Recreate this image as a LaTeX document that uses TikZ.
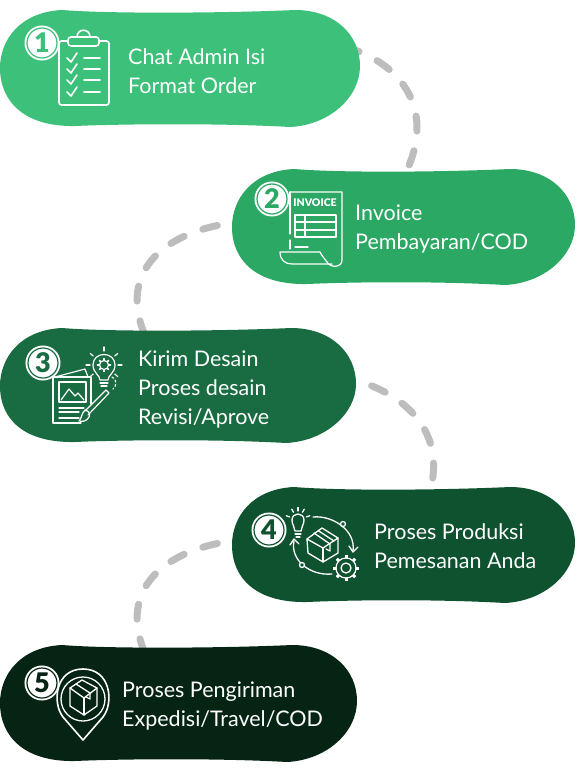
\documentclass[tikz,border=0pt]{standalone}
\usepackage{fontspec}
\setmainfont{Lato}[BoldFont=Lato Black]
\definecolor{gA}{HTML}{3CC07A}
\definecolor{gB}{HTML}{2BA864}
\definecolor{gC}{HTML}{196C42}
\definecolor{gD}{HTML}{0F5230}
\definecolor{gE}{HTML}{062414}
\definecolor{dashgray}{HTML}{BDBDBD}
\tikzset{
 flow/.style={draw=dashgray,line width=7pt,line cap=round,dash pattern=on 15pt off 20pt},
 label/.style={text=white,font=\fontsize{21.5}{29}\selectfont,align=left,anchor=west,inner sep=0pt},
 ico/.style={draw=white,line width=1.6pt,line cap=round,line join=round,fill=none},
 thin ico/.style={ico,line width=1.2pt},
 badge/.style={circle,preaction={draw=white,line width=5pt},fill=white,draw=#1,line width=1.2pt,inner sep=0pt,minimum size=30pt,font=\fontsize{27}{27}\selectfont\bfseries,text=#1},
}
% blob: left x, top y, right x, bottom y, colour
\newcommand{\blob}[5]{%
 \fill[#5] (#1+62,#2) .. controls (#1+20,#2+2) and (#1,#2+30) .. (#1,#2+58)
  .. controls (#1,#2+92) and (#1+25,#4) .. (#1+75,#4-1)
  .. controls (#1+120,#4-3) and (#3-140,#4-4) .. (#3-70,#4)
  .. controls (#3-30,#4-2) and (#3,#4-30) .. (#3,#2+56)
  .. controls (#3,#2+25) and (#3-25,#2) .. (#3-65,#2)
  .. controls (#3-130,#2+3) and (#1+110,#2+4) .. (#1+62,#2) -- cycle;}
\begin{document}
\begin{tikzpicture}[x=1pt,y=-1pt]
\useasboundingbox (0,0) rectangle (576,768);
\coordinate (s1) at (345,47);
\coordinate (e1) at (406,172);
\coordinate (s2) at (252,221);
\coordinate (e2) at (147,340);
\coordinate (s3) at (343,377);
\coordinate (e3) at (429,495);
\coordinate (s4) at (252,539);
\coordinate (e4) at (147,658);
\draw[flow] (s1) .. controls (395,60) and (438,105) .. (e1);
\draw[flow] (s2) .. controls (175,225) and (112,265) .. (e2);
\draw[flow,dash phase=5pt] (s3) .. controls (395,388) and (450,425) .. (e3);
\draw[flow] (s4) .. controls (175,543) and (112,583) .. (e4);
\blob{0}{10}{360}{127}{gA}
\blob{232}{169}{575}{285}{gB}
\blob{0}{328}{356}{443}{gC}
\blob{232}{487}{575}{603}{gD}
\blob{0}{645}{357}{762}{gE}
% labels
\node[label] (t1) at (128,71) {Chat Admin Isi\\Format Order};
\node[label] (t2) at (355,229) {Invoice\\Pembayaran/COD};
\node[label] (t3) at (138,389) {Kirim Desain\\Proses desain\\Revisi/Aprove};
\node[label] (t4) at (374,546) {Proses Produksi\\Pemesanan Anda};
\node[label] (t5) at (122,706) {Proses Pengiriman\\Expedisi/Travel/COD};
% icon 1 clipboard
\draw[ico,rounded corners=2.5pt] (68,41) -- (59,41) -- (59,105) -- (109,105) -- (109,41) -- (99,41);
\draw[ico,rounded corners=3pt] (68,46) -- (99,46) -- (99,37) -- (68,37) -- cycle;
\draw[ico] (77,37) .. controls (77,28) and (90,28) .. (90,37);
\foreach \y in {58,69,80,92}{
 \draw[ico] (67,\y) -- (71,\y+4) -- (77,\y-5);
 \draw[ico] (84,\y) -- (100,\y);
}
% icon 2 invoice
\draw[thin ico] (290,192) -- (342,192) -- (342,260) .. controls (342,268) and (330,268) .. (327,262) .. controls (324,258) and (322,256) .. (320,252) -- (280,252) .. controls (280,260) and (285,264) .. (292,264) -- (332,264);
\draw[thin ico] (290,192) -- (290,234);
\draw[thin ico] (290,240) -- (290,249);
\draw[thin ico] (295,247) -- (308,247);
\draw[thin ico] (295,215) rectangle (336,237);
\draw[thin ico] (295,222) -- (336,222) (295,230) -- (336,230) (305,215) -- (305,237);
\node[text=white,font=\fontsize{10.5}{11}\selectfont\bfseries,inner sep=0pt] (inv) at (315,203) {INVOICE};
% icon 3 design
\draw[thin ico] (55,377) -- (85,369) -- (88,377);
\draw[thin ico] (81,423) -- (53,423) -- (53,377) -- (91,377) -- (91,404);
\draw[thin ico] (59,382) rectangle (86,402);
\draw[thin ico] (61,400) -- (69,389) -- (75,396) -- (78,393) -- (84,400);
\draw[thin ico] (59,408) -- (84,408) (59,412) -- (79,412) (59,418) -- (79,418);
\draw[thin ico] (85,411) -- (106,390) -- (109,393) -- (88,415);
\draw[thin ico] (85,410) .. controls (90,411) and (90,415) .. (89,417) .. controls (87,421) and (83,422) .. (79,421) .. controls (82,418) and (81,414) .. (85,410) -- cycle;
\draw[thin ico] (100,380) .. controls (100,375) and (93,373) .. (93,365) .. controls (93,351) and (115,351) .. (115,365) .. controls (115,373) and (108,375) .. (108,380) -- cycle;
\draw[thin ico] (100,383) -- (108,383) (101,386) -- (107,386);
\draw[thin ico] (104,365) circle[radius=4.5];
\foreach \a in {0,45,...,315}{\draw[ico,line width=1.6pt] (104,365) ++(\a:5) -- ++(\a:1.5);}
\foreach \a in {0,40,140,180,220,270,320}{\draw[thin ico] (104,365) ++(\a:14) -- ++(\a:4);}
\draw[thin ico,dash pattern=on 2pt off 2.5pt] (112,377) .. controls (117,379) and (117,386) .. (113,389);
% icon 4 process
\draw[ico,line width=1.3pt] (307,539) -- (322,528) -- (338,538) -- (323,548) -- cycle;
\draw[ico,line width=1.3pt] (307,539) -- (308,553) -- (323,562) -- (338,553) -- (338,538);
\draw[ico,line width=1.3pt] (323,548) -- (323,562);
\draw[ico,line width=1.3pt] (314,533) -- (330,544) -- (330,551) -- (326,549);
\draw[ico,line width=1.3pt] (318,530.5) -- (334,541);
\draw[ico,line width=1.3pt] (295,531) .. controls (295,527) and (292,525) .. (292,520) .. controls (292,512) and (304,512) .. (304,520) .. controls (304,525) and (301,527) .. (301,531) -- cycle;
\draw[ico,line width=1.3pt] (295,534) -- (301,534) (296,537) -- (300,537);
\foreach \a in {200,240,270,300,340}{\draw[ico,line width=1.3pt] (298,520) ++(\a:9) -- ++(\a:3.5);}
\draw[ico,line width=1.3pt] (313,517) .. controls (332,515) and (356,530) .. (353,551);
\draw[ico,line width=1.3pt] (349,546) -- (353,552) -- (358,547);
\draw[ico,line width=1.3pt] (332,574) .. controls (310,576) and (290,560) .. (294,541);
\draw[ico,line width=1.3pt] (290,545) -- (294,539) -- (299,544);
\node[circle,draw=white,fill=gD,line width=1.3pt,minimum size=5pt,inner sep=0pt] (dot1) at (343,524) {};
\node[circle,draw=white,fill=gD,line width=1.3pt,minimum size=5pt,inner sep=0pt] (dot2) at (302,565) {};
\fill[gD] (346,568) circle[radius=13];
\draw[ico,line width=1.3pt] (346,568) circle[radius=10];
\foreach \a in {0,45,...,315}{\draw[ico,line width=3pt,line cap=butt] (346,568) ++(\a:10) -- ++(\a:3);}
\fill[gD] (346,568) circle[radius=9];
\draw[ico,line width=1.3pt] (346,568) circle[radius=5];
% icon 5 pin with box
\draw[ico,line width=1.6pt] (83,740) -- (63,717) .. controls (52,703) and (55,669) .. (83,669) .. controls (111,669) and (114,703) .. (103,717) -- cycle;
\draw[ico,line width=1.3pt] (83,699) circle[radius=22];
\draw[ico,line width=1.3pt] (70,688) -- (82,680) -- (97,688) -- (84,698) -- cycle;
\draw[ico,line width=1.3pt] (70,688) -- (70,706) -- (84,715) -- (97,706) -- (97,688);
\draw[ico,line width=1.3pt] (84,698) -- (84,715);
\draw[ico,line width=1.3pt] (76,684) -- (90,693) -- (90,699) -- (86,697);
% badges
\node[badge=gA] (b1) at (42,43) {1};
\node[badge=gB] (b2) at (272,199) {2};
\node[badge=gC] (b3) at (43,363) {3};
\node[badge=gD] (b4) at (269,530) {4};
\node[badge=gE] (b5) at (42,683) {5};
\end{tikzpicture}
\end{document}
